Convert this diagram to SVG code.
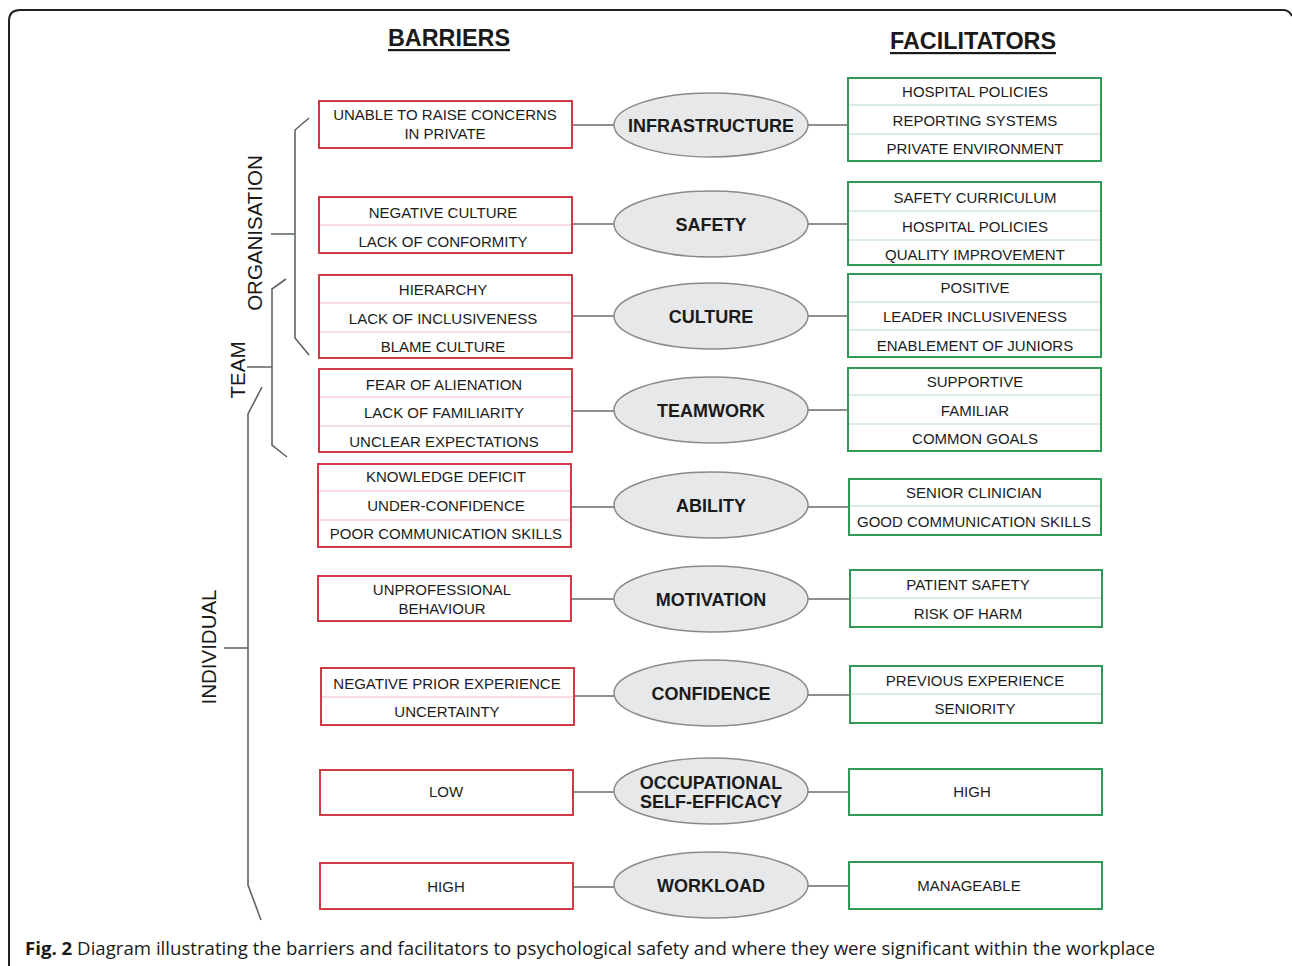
<svg xmlns="http://www.w3.org/2000/svg" width="1292" height="966" viewBox="0 0 1292 966">
<defs>
<style>
.frame{fill:none;stroke:#222;stroke-width:2}
.hdr{font-family:"Liberation Sans",Arial,sans-serif;font-weight:bold;font-size:24px;fill:#1a1a1a;text-anchor:middle}
.grp{font-family:"Liberation Sans",Arial,sans-serif;font-size:20.5px;fill:#1a1a1a;text-anchor:middle}
.br{fill:none;stroke:#5e6464;stroke-width:1.6}
.conn{fill:none;stroke:#8e8e8e;stroke-width:2}
.ell{fill:#e7e8ea;stroke:#8a8a8a;stroke-width:1.5}
.etx{font-family:"Liberation Sans",Arial,sans-serif;font-weight:bold;font-size:18px;fill:#1a1a1a;text-anchor:middle}
.rbox{fill:#fff;stroke:#cf3a45;stroke-width:2}
.gbox{fill:#fff;stroke:#2f9a55;stroke-width:2}
.rsep{stroke:#efbcc0;stroke-width:1.2}
.gsep{stroke:#b8dcc4;stroke-width:1.2}
.btx{font-family:"Liberation Sans",Arial,sans-serif;font-size:15px;fill:#1c1c1c;text-anchor:middle}
.cap{font-family:"Open Sans","Noto Sans",sans-serif;font-size:18.5px;fill:#1a1a1a}
</style>
</defs>
<rect x="0" y="0" width="1292" height="966" fill="#fff"/>
<path class="frame" d="M9 966 L9 21 Q9 10 20 10 L1283 10 Q1289 10 1292 16"/>

<g id="headers">
<text class="hdr" x="449" y="46" textLength="122" lengthAdjust="spacingAndGlyphs">BARRIERS</text>
<rect x="388" y="49" width="122" height="2.2" fill="#1a1a1a"/>
<text class="hdr" x="973" y="49" textLength="166" lengthAdjust="spacingAndGlyphs">FACILITATORS</text>
<rect x="890" y="52" width="166" height="2.2" fill="#1a1a1a"/>
</g>

<g id="group-labels">
<g id="organisation">
<text class="grp" transform="translate(262,233) rotate(-90)" x="0" y="0">ORGANISATION</text>
<path class="br" d="M309 118 L295 130 L295 338 L309 355 M271 234 L295 234"/>
</g>
<g id="team">
<text class="grp" transform="translate(245,370) rotate(-90)" x="0" y="0">TEAM</text>
<path class="br" d="M286 279 L272 289 L272 445 L287 457 M247 367 L272 367"/>
</g>
<g id="individual">
<text class="grp" transform="translate(216,647) rotate(-90)" x="0" y="0">INDIVIDUAL</text>
<path class="br" d="M262 387 L248 414 L248 885 L261 920 M224 648 L248 648"/>
</g>
</g>

<g id="connectors">
<line class="conn" x1="572" y1="125" x2="614" y2="125"/><line class="conn" x1="808" y1="125" x2="848" y2="125"/>
<line class="conn" x1="572" y1="224" x2="614" y2="224"/><line class="conn" x1="808" y1="224" x2="848" y2="224"/>
<line class="conn" x1="572" y1="316" x2="614" y2="316"/><line class="conn" x1="808" y1="316" x2="848" y2="316"/>
<line class="conn" x1="572" y1="411" x2="614" y2="411"/><line class="conn" x1="808" y1="410" x2="848" y2="410"/>
<line class="conn" x1="571" y1="507" x2="614" y2="507"/><line class="conn" x1="808" y1="507" x2="849" y2="507"/>
<line class="conn" x1="571" y1="599" x2="614" y2="599"/><line class="conn" x1="808" y1="599" x2="850" y2="599"/>
<line class="conn" x1="574" y1="696" x2="614" y2="696"/><line class="conn" x1="808" y1="695" x2="850" y2="695"/>
<line class="conn" x1="573" y1="792" x2="614" y2="792"/><line class="conn" x1="808" y1="792" x2="849" y2="792"/>
<line class="conn" x1="573" y1="887" x2="614" y2="887"/><line class="conn" x1="808" y1="886" x2="849" y2="886"/>
</g>

<g id="infrastructure">
<ellipse class="ell" cx="711" cy="125" rx="97" ry="32"/>
<text class="etx" x="711" y="131.5">INFRASTRUCTURE</text>
</g>
<g id="safety">
<ellipse class="ell" cx="711" cy="224" rx="97" ry="33"/>
<text class="etx" x="711" y="230.5">SAFETY</text>
</g>
<g id="culture">
<ellipse class="ell" cx="711" cy="316" rx="97" ry="33"/>
<text class="etx" x="711" y="322.5">CULTURE</text>
</g>
<g id="teamwork">
<ellipse class="ell" cx="711" cy="410" rx="97" ry="33"/>
<text class="etx" x="711" y="416.5">TEAMWORK</text>
</g>
<g id="ability">
<ellipse class="ell" cx="711" cy="505" rx="97" ry="33"/>
<text class="etx" x="711" y="511.5">ABILITY</text>
</g>
<g id="motivation">
<ellipse class="ell" cx="711" cy="599" rx="97" ry="33"/>
<text class="etx" x="711" y="605.5">MOTIVATION</text>
</g>
<g id="confidence">
<ellipse class="ell" cx="711" cy="693" rx="97" ry="33"/>
<text class="etx" x="711" y="699.5">CONFIDENCE</text>
</g>
<g id="occupational-self-efficacy">
<ellipse class="ell" cx="711" cy="791" rx="97" ry="33"/>
<text class="etx" x="711" y="788.5">OCCUPATIONAL</text>
<text class="etx" x="711" y="807.5">SELF-EFFICACY</text>
</g>
<g id="workload">
<ellipse class="ell" cx="711" cy="885" rx="97" ry="33"/>
<text class="etx" x="711" y="891.5">WORKLOAD</text>
</g>

<g id="barrier-infrastructure">
<rect class="rbox" x="319" y="101" width="253" height="47"/>
<text class="btx" x="445" y="119.5">UNABLE TO RAISE CONCERNS</text>
<text class="btx" x="445" y="138.5">IN PRIVATE</text>
</g>
<g id="barrier-safety">
<rect class="rbox" x="319" y="197" width="253" height="56"/>
<line class="rsep" x1="320" y1="225" x2="571" y2="225"/>
<text class="btx" x="443" y="217.5">NEGATIVE CULTURE</text>
<text class="btx" x="443" y="246.5">LACK OF CONFORMITY</text>
</g>
<g id="barrier-culture">
<rect class="rbox" x="319" y="275" width="253" height="83"/>
<line class="rsep" x1="320" y1="303" x2="571" y2="303"/>
<line class="rsep" x1="320" y1="332" x2="571" y2="332"/>
<text class="btx" x="443" y="294.5">HIERARCHY</text>
<text class="btx" x="443" y="323.5">LACK OF INCLUSIVENESS</text>
<text class="btx" x="443" y="351.5">BLAME CULTURE</text>
</g>
<g id="barrier-teamwork">
<rect class="rbox" x="319" y="369" width="253" height="83"/>
<line class="rsep" x1="320" y1="397" x2="571" y2="397"/>
<line class="rsep" x1="320" y1="426" x2="571" y2="426"/>
<text class="btx" x="444" y="389.5">FEAR OF ALIENATION</text>
<text class="btx" x="444" y="418">LACK OF FAMILIARITY</text>
<text class="btx" x="444" y="446.5">UNCLEAR EXPECTATIONS</text>
</g>
<g id="barrier-ability">
<rect class="rbox" x="318" y="464" width="253" height="83"/>
<line class="rsep" x1="319" y1="491" x2="570" y2="491"/>
<line class="rsep" x1="319" y1="520" x2="570" y2="520"/>
<text class="btx" x="446" y="481.5">KNOWLEDGE DEFICIT</text>
<text class="btx" x="446" y="510.5">UNDER-CONFIDENCE</text>
<text class="btx" x="446" y="538.5">POOR COMMUNICATION SKILLS</text>
</g>
<g id="barrier-motivation">
<rect class="rbox" x="318" y="576" width="253" height="45"/>
<text class="btx" x="442" y="594.5">UNPROFESSIONAL</text>
<text class="btx" x="442" y="613.5">BEHAVIOUR</text>
</g>
<g id="barrier-confidence">
<rect class="rbox" x="321" y="668" width="253" height="57"/>
<line class="rsep" x1="322" y1="697" x2="573" y2="697"/>
<text class="btx" x="447" y="688.5">NEGATIVE PRIOR EXPERIENCE</text>
<text class="btx" x="447" y="716.5">UNCERTAINTY</text>
</g>
<g id="barrier-self-efficacy">
<rect class="rbox" x="320" y="770" width="253" height="45"/>
<text class="btx" x="446" y="796.5">LOW</text>
</g>
<g id="barrier-workload">
<rect class="rbox" x="320" y="863" width="253" height="46"/>
<text class="btx" x="446" y="891.5">HIGH</text>
</g>

<g id="facilitator-infrastructure">
<rect class="gbox" x="848" y="78" width="253" height="83"/>
<line class="gsep" x1="849" y1="105" x2="1100" y2="105"/>
<line class="gsep" x1="849" y1="134" x2="1100" y2="134"/>
<text class="btx" x="975" y="96.5">HOSPITAL POLICIES</text>
<text class="btx" x="975" y="125.5">REPORTING SYSTEMS</text>
<text class="btx" x="975" y="153.5">PRIVATE ENVIRONMENT</text>
</g>
<g id="facilitator-safety">
<rect class="gbox" x="848" y="182" width="253" height="83"/>
<line class="gsep" x1="849" y1="211" x2="1100" y2="211"/>
<line class="gsep" x1="849" y1="240" x2="1100" y2="240"/>
<text class="btx" x="975" y="202.5">SAFETY CURRICULUM</text>
<text class="btx" x="975" y="231.5">HOSPITAL POLICIES</text>
<text class="btx" x="975" y="259.5">QUALITY IMPROVEMENT</text>
</g>
<g id="facilitator-culture">
<rect class="gbox" x="848" y="274" width="253" height="83"/>
<line class="gsep" x1="849" y1="302" x2="1100" y2="302"/>
<line class="gsep" x1="849" y1="330" x2="1100" y2="330"/>
<text class="btx" x="975" y="292.5">POSITIVE</text>
<text class="btx" x="975" y="321.5">LEADER INCLUSIVENESS</text>
<text class="btx" x="975" y="350.5">ENABLEMENT OF JUNIORS</text>
</g>
<g id="facilitator-teamwork">
<rect class="gbox" x="848" y="368" width="253" height="83"/>
<line class="gsep" x1="849" y1="395" x2="1100" y2="395"/>
<line class="gsep" x1="849" y1="424" x2="1100" y2="424"/>
<text class="btx" x="975" y="386.5">SUPPORTIVE</text>
<text class="btx" x="975" y="415.5">FAMILIAR</text>
<text class="btx" x="975" y="443.5">COMMON GOALS</text>
</g>
<g id="facilitator-ability">
<rect class="gbox" x="849" y="479" width="252" height="56"/>
<line class="gsep" x1="850" y1="506" x2="1100" y2="506"/>
<text class="btx" x="974" y="497.5">SENIOR CLINICIAN</text>
<text class="btx" x="974" y="526.5">GOOD COMMUNICATION SKILLS</text>
</g>
<g id="facilitator-motivation">
<rect class="gbox" x="850" y="570" width="252" height="57"/>
<line class="gsep" x1="851" y1="598" x2="1101" y2="598"/>
<text class="btx" x="968" y="589.5">PATIENT SAFETY</text>
<text class="btx" x="968" y="618.5">RISK OF HARM</text>
</g>
<g id="facilitator-confidence">
<rect class="gbox" x="850" y="666" width="252" height="57"/>
<line class="gsep" x1="851" y1="694" x2="1101" y2="694"/>
<text class="btx" x="975" y="685.5">PREVIOUS EXPERIENCE</text>
<text class="btx" x="975" y="713.5">SENIORITY</text>
</g>
<g id="facilitator-self-efficacy">
<rect class="gbox" x="849" y="769" width="253" height="46"/>
<text class="btx" x="972" y="796.5">HIGH</text>
</g>
<g id="facilitator-workload">
<rect class="gbox" x="849" y="862" width="253" height="47"/>
<text class="btx" x="969" y="890.5">MANAGEABLE</text>
</g>

<g id="caption">
<text class="cap" x="25" y="955" textLength="1130" lengthAdjust="spacingAndGlyphs"><tspan font-weight="bold">Fig. 2</tspan> Diagram illustrating the barriers and facilitators to psychological safety and where they were significant within the workplace</text>
</g>
</svg>
